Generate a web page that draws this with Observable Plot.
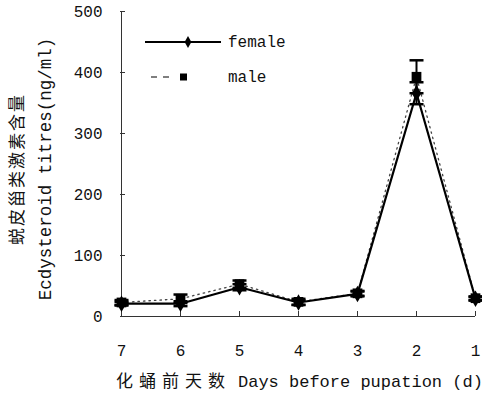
<!DOCTYPE html>
<html><head><meta charset="utf-8">
<script src="https://cdn.jsdelivr.net/npm/d3@7"></script>
<script src="https://cdn.jsdelivr.net/npm/@observablehq/plot@0.6"></script>
<style>
body{margin:0;background:#fff;}
#chart{position:relative;width:482px;height:397px;}
</style></head><body><div id="chart"></div>
<script>
const days = ["7","6","5","4","3","2","1"];
const female = [21, 21, 48, 23, 37, 366, 29];
const femaleErr = [3, 4, 5, 4, 4, 18, 3];
const male = [23, 29, 53, 24, 38, 393, 30];
const maleErr = [4, 7, 6, 5, 4, 27, 3];
const yTicks = [0, 100, 200, 300, 400, 500];
const seriesNames = ["female", "male"];
const xTitleZh = "化蛹前天数";
const xTitleEn = "Days before pupation (d)";
const yTitleZh = "蜕皮甾类激素含量";
const yTitleEn = "Ecdysteroid titres(ng/ml)";

const F = days.map((d, i) => ({day: d, v: female[i], e: femaleErr[i]}));
const M = days.map((d, i) => ({day: d, v: male[i], e: maleErr[i]}));
const rows = [...F, ...M];
const cap = {draw(c) { c.moveTo(-7, 0); c.lineTo(7, 0); }};
const font = "'Liberation Mono', 'Noto Sans CJK SC', monospace";

const plot = Plot.plot({
  width: 482, height: 397,
  marginLeft: 120, marginRight: 7, marginTop: 11, marginBottom: 81,
  style: {fontFamily: font, fontSize: "16px", color: "#000", background: "#fff"},
  x: {type: "point", domain: days, padding: 0, label: null},
  y: {domain: [0, 500], label: null},
  marks: [
    Plot.ruleY([0], {stroke: "#333"}),
    Plot.ruleX([days[0]], {stroke: "#333"}),
    Plot.axisY(yTicks, {tickSize: 5, dx: 5, fill: "none", stroke: "#333"}),
    Plot.axisY(yTicks, {tickSize: 0, tickPadding: 18, label: null, fill: "#111"}),
    Plot.axisX(days, {tickSize: 5, dy: -5, fill: "none", stroke: "#333"}),
    Plot.axisX(days, {tickSize: 0, tickPadding: 28, label: null, fill: "#111"}),
    Plot.line(M, {x: "day", y: "v", stroke: "#444", strokeWidth: 1.3, strokeDasharray: "1.5,4"}),
    Plot.line(F, {x: "day", y: "v", stroke: "#000", strokeWidth: 2.2}),
    Plot.ruleX(rows, {x: "day", y1: d => d.v - d.e, y2: d => d.v + d.e, stroke: "#000", strokeWidth: 2}),
    Plot.dot(rows, {x: "day", y: d => d.v + d.e, symbol: cap, r: 4, fill: "none", stroke: "#000", strokeWidth: 2.5}),
    Plot.dot(rows, {x: "day", y: d => d.v - d.e, symbol: cap, r: 4, fill: "none", stroke: "#000", strokeWidth: 2.5}),
    Plot.dot(M, {x: "day", y: "v", symbol: "square", r: 5.5, fill: "#000"}),
    Plot.dot(F, {x: "day", y: "v", symbol: "diamond", r: 5, fill: "#000"}),
    Plot.text([xTitleZh], {frameAnchor: "bottom", textAnchor: "start", lineAnchor: "middle", dx: -182, dy: 65, fontSize: 17, fill: "#111"}),
    Plot.text([xTitleEn], {frameAnchor: "bottom", textAnchor: "start", lineAnchor: "middle", dx: -60, dy: 65, fontSize: 17, fill: "#111"}),
    Plot.text([yTitleZh], {frameAnchor: "left", rotate: -90, textAnchor: "middle", lineAnchor: "middle", dx: -103, dy: 5, fontSize: 17, fill: "#111"}),
    Plot.text([yTitleEn], {frameAnchor: "left", rotate: -90, textAnchor: "middle", lineAnchor: "middle", dx: -75, dy: 5, fontSize: 17.5, fill: "#111"})
  ]
});

d3.select(plot).selectAll("text").each(function() {
  const t = this.textContent;
  if (t === xTitleZh) this.style.letterSpacing = "6px";
  if (t === yTitleZh) this.style.letterSpacing = "2px";
});

// legend
const svg = d3.select(plot);
const lg = svg.append("g").attr("font-family", font).attr("font-size", 16).attr("fill", "#111").attr("text-anchor", "start");
lg.append("line").attr("x1", 145).attr("x2", 221).attr("y1", 42).attr("y2", 42).attr("stroke", "#000").attr("stroke-width", 2);
lg.append("path").attr("transform", "translate(188,42)").attr("d", d3.symbol(d3.symbolDiamond, 40)()).attr("fill", "#000");
lg.append("text").attr("x", 228).attr("y", 42).attr("dy", "0.32em").text(seriesNames[0]);
lg.append("line").attr("x1", 151).attr("x2", 175).attr("y1", 77).attr("y2", 77).attr("stroke", "#000").attr("stroke-width", 1.2).attr("stroke-dasharray", "6,6");
lg.append("rect").attr("x", 180).attr("y", 73.5).attr("width", 7).attr("height", 7).attr("fill", "#000");
lg.append("text").attr("x", 228).attr("y", 77).attr("dy", "0.32em").text(seriesNames[1]);

document.getElementById("chart").append(plot);
</script></body></html>
